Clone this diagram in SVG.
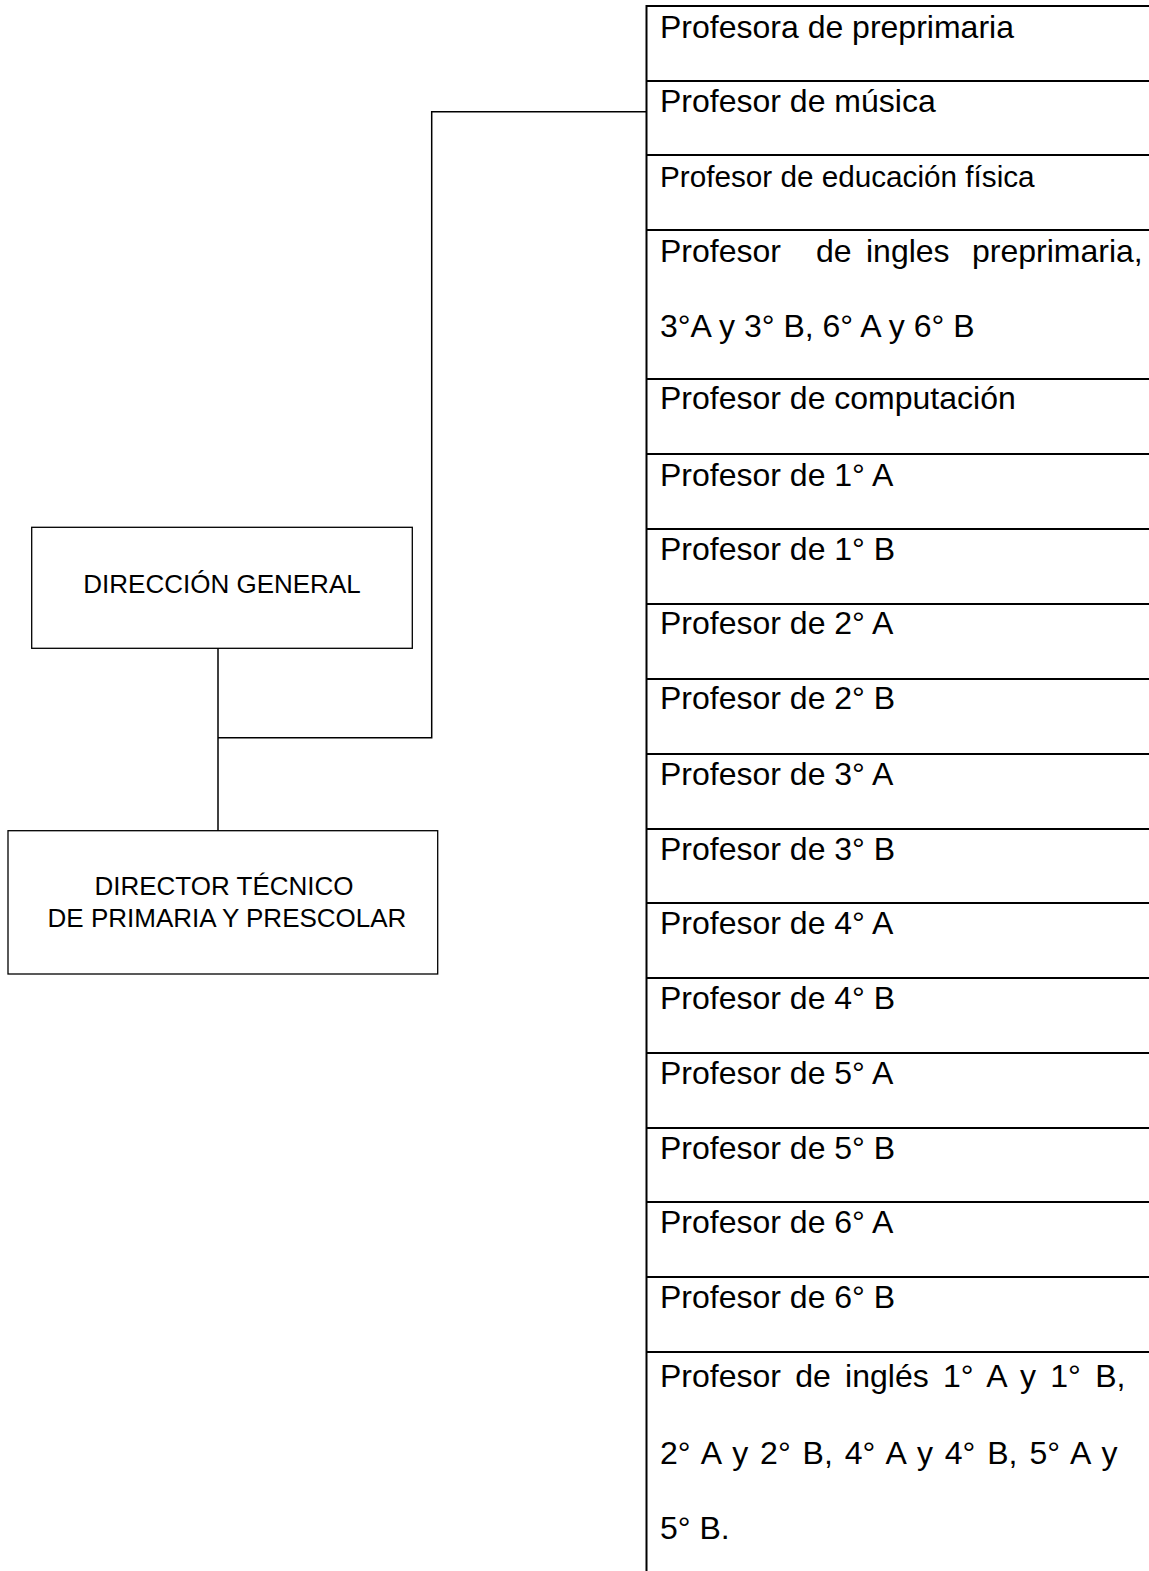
<svg xmlns="http://www.w3.org/2000/svg" width="1149" height="1571" viewBox="0 0 1149 1571">
<style>
.box{fill:#fff;stroke:#000;stroke-width:1.3}
.lbl{font-family:"Liberation Sans",Arial,sans-serif;font-size:26px;fill:#000;text-anchor:middle}
.t{font-family:"Liberation Sans",Arial,sans-serif;font-size:32px;fill:#000}
.rl{stroke:#000;stroke-width:2;fill:none}
.con{stroke:#000;stroke-width:1.5;fill:none}
</style>
<rect width="1149" height="1571" fill="#fff"/>
<g id="connectors">
<path class="con" d="M218,648 V831"/>
<path class="con" d="M218,737.7 H431.7 V111.7 H646"/>
</g>
<g id="direccion-general">
<rect class="box" x="31.7" y="527.3" width="380.6" height="121"/>
<text class="lbl" x="222" y="593">DIRECCIÓN GENERAL</text>
</g>
<g id="director-tecnico">
<rect class="box" x="8" y="830.7" width="429.7" height="143.3"/>
<text class="lbl" x="224" y="895">DIRECTOR TÉCNICO</text>
<text class="lbl" x="227" y="927">DE PRIMARIA Y PRESCOLAR</text>
</g>
<g id="tabla-profesores">
<path class="rl" d="M646.5,5 V1571"/>
<path class="rl" d="M646,6 H1149 M646,81 H1149 M646,155 H1149 M646,230 H1149 M646,379 H1149 M646,454 H1149 M646,529 H1149 M646,604 H1149 M646,679 H1149 M646,754 H1149 M646,829 H1149 M646,903 H1149 M646,978 H1149 M646,1053 H1149 M646,1128 H1149 M646,1202 H1149 M646,1277 H1149 M646,1352 H1149"/>
<g id="r0"><text class="t" x="660" y="38">Profesora de preprimaria</text></g>
<g id="r1"><text class="t" x="660" y="112">Profesor de música</text></g>
<g id="r2"><text class="t" x="660" y="187" style="font-size:29.7px">Profesor de educación física</text></g>
<g id="r3">
<text class="t" y="262"><tspan x="660">Profesor</tspan><tspan x="816">de</tspan><tspan x="866">ingles</tspan><tspan x="972">preprimaria,</tspan></text>
<text class="t" x="660" y="337">3°A y 3° B, 6° A y 6° B</text>
</g>
<g id="r4"><text class="t" x="660" y="409">Profesor de computación</text></g>
<g id="r5"><text class="t" x="660" y="486">Profesor de 1° A</text></g>
<g id="r6"><text class="t" x="660" y="560">Profesor de 1° B</text></g>
<g id="r7"><text class="t" x="660" y="634">Profesor de 2° A</text></g>
<g id="r8"><text class="t" x="660" y="709">Profesor de 2° B</text></g>
<g id="r9"><text class="t" x="660" y="785">Profesor de 3° A</text></g>
<g id="r10"><text class="t" x="660" y="860">Profesor de 3° B</text></g>
<g id="r11"><text class="t" x="660" y="934">Profesor de 4° A</text></g>
<g id="r12"><text class="t" x="660" y="1009">Profesor de 4° B</text></g>
<g id="r13"><text class="t" x="660" y="1084">Profesor de 5° A</text></g>
<g id="r14"><text class="t" x="660" y="1159">Profesor de 5° B</text></g>
<g id="r15"><text class="t" x="660" y="1233">Profesor de 6° A</text></g>
<g id="r16"><text class="t" x="660" y="1308">Profesor de 6° B</text></g>
<g id="r17">
<text class="t" x="660" y="1387" word-spacing="5.4">Profesor de inglés 1° A y 1° B,</text>
<text class="t" x="660" y="1464" word-spacing="3">2° A y 2° B, 4° A y 4° B, 5° A y</text>
<text class="t" x="660" y="1539">5° B.</text>
</g>
</g>
</svg>
